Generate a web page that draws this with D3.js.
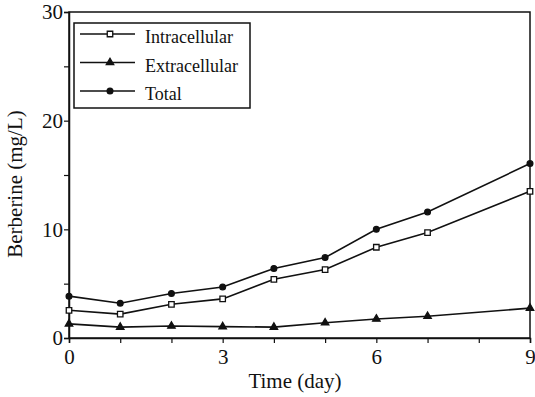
<!DOCTYPE html>
<html>
<head>
<meta charset="utf-8">
<script src="https://cdn.jsdelivr.net/npm/d3@7"></script>
<style>
  body { margin: 0; background: #fff; }
  text { font-family: "Liberation Serif", "DejaVu Serif", serif; fill: #111; }
</style>
</head>
<body>
<svg id="chart" width="535" height="397"></svg>
<script>
// data
var days = [0, 1, 2, 3, 4, 5, 6, 7, 9];
var intracellular = [2.55, 2.2, 3.1, 3.6, 5.4, 6.3, 8.35, 9.7, 13.5];
var extracellular = [1.3, 1.0, 1.1, 1.05, 1.0, 1.4, 1.75, 2.0, 2.75];
var total = [3.85, 3.2, 4.1, 4.7, 6.4, 7.4, 10.0, 11.6, 16.05];
var seriesNames = ["Intracellular", "Extracellular", "Total"];
var xTicks = [0, 3, 6, 9];
var yTicks = [0, 10, 20, 30];

var margin = {top: 12, right: 5, bottom: 59, left: 69},
    width = 535 - margin.left - margin.right,
    height = 397 - margin.top - margin.bottom;

var svg = d3.select("#chart")
  .append("g")
    .attr("transform", "translate(" + margin.left + "," + margin.top + ")");

var x = d3.scaleLinear().domain([0, 9]).range([0, width]);
var y = d3.scaleLinear().domain([0, 30]).range([height, 0]);

// frame
svg.append("rect")
  .attr("width", width)
  .attr("height", height)
  .attr("fill", "none")
  .attr("stroke", "#111")
  .attr("stroke-width", 1.5);

// axes
var xAxis = svg.append("g")
  .attr("transform", "translate(0," + height + ")")
  .call(d3.axisBottom(x).tickValues(d3.range(0, 10)).tickSize(5).tickFormat(function(d) {
    return xTicks.indexOf(d) > -1 ? d : "";
  }));
var yAxis = svg.append("g")
  .call(d3.axisLeft(y).tickValues(d3.range(0, 31, 5)).tickSize(5).tickFormat(function(d) {
    return yTicks.indexOf(d) > -1 ? d : "";
  }));

[xAxis, yAxis].forEach(function(a) {
  a.select(".domain").attr("stroke", "#111").attr("stroke-width", 1.5);
  a.selectAll(".tick line").attr("stroke", "#111").attr("stroke-width", 1.2);
  a.selectAll(".tick text").style("font-size", "21px").style("font-family", "Liberation Serif");
});
xAxis.selectAll(".tick text").attr("dy", "0.85em");
yAxis.selectAll(".tick text").attr("x", -6);

// axis titles
svg.append("text")
  .attr("transform", "rotate(-90)")
  .attr("x", -(184 - margin.top))
  .attr("y", -47)
  .style("text-anchor", "middle")
  .style("font-size", "21px")
  .text("Berberine (mg/L)");

svg.append("text")
  .attr("x", 295 - margin.left)
  .attr("y", height + 50)
  .style("text-anchor", "middle")
  .style("font-size", "21px")
  .text("Time (day)");

// lines
var line = d3.line()
  .x(function(d) { return x(d.day); })
  .y(function(d) { return y(d.v); });

function pairs(vals) {
  return days.map(function(d, i) { return {day: d, v: vals[i]}; });
}

var allSeries = [intracellular, extracellular, total];
var symbols = [d3.symbolSquare, d3.symbolTriangle, d3.symbolCircle];
var symSize = [30, 24, 26];
var symFill = ["#fff", "#111", "#111"];

allSeries.forEach(function(vals, k) {
  var data = pairs(vals);
  svg.append("path")
    .datum(data)
    .attr("fill", "none")
    .attr("stroke", "#111")
    .attr("stroke-width", 1.6)
    .attr("d", line);

  svg.selectAll(".pt" + k)
    .data(data)
    .enter().append("path")
      .attr("class", "pt" + k)
      .attr("transform", function(d) { return "translate(" + x(d.day) + "," + y(d.v) + ")"; })
      .attr("d", d3.symbol().type(symbols[k]).size(symSize[k]))
      .attr("fill", symFill[k])
      .attr("stroke", "#111")
      .attr("stroke-width", 1.3);
});

// legend
var legend = svg.append("g").attr("transform", "translate(5,11)");
legend.append("rect")
  .attr("width", 176)
  .attr("height", 85)
  .attr("fill", "#fff")
  .attr("stroke", "#111")
  .attr("stroke-width", 1.5);

seriesNames.forEach(function(name, k) {
  var gy = 11 + k * 28.5;
  legend.append("line")
    .attr("x1", 6).attr("x2", 61)
    .attr("y1", gy).attr("y2", gy)
    .attr("stroke", "#111")
    .attr("stroke-width", 1.4);
  legend.append("path")
    .attr("transform", "translate(" + 36 + "," + gy + ")")
    .attr("d", d3.symbol().type(symbols[k]).size(symSize[k]))
    .attr("fill", symFill[k])
    .attr("stroke", "#111")
    .attr("stroke-width", 1.3);
  legend.append("text")
    .attr("x", 71)
    .attr("y", gy + 9)
    .style("font-size", "18px")
    .text(name);
});
</script>
</body>
</html>
